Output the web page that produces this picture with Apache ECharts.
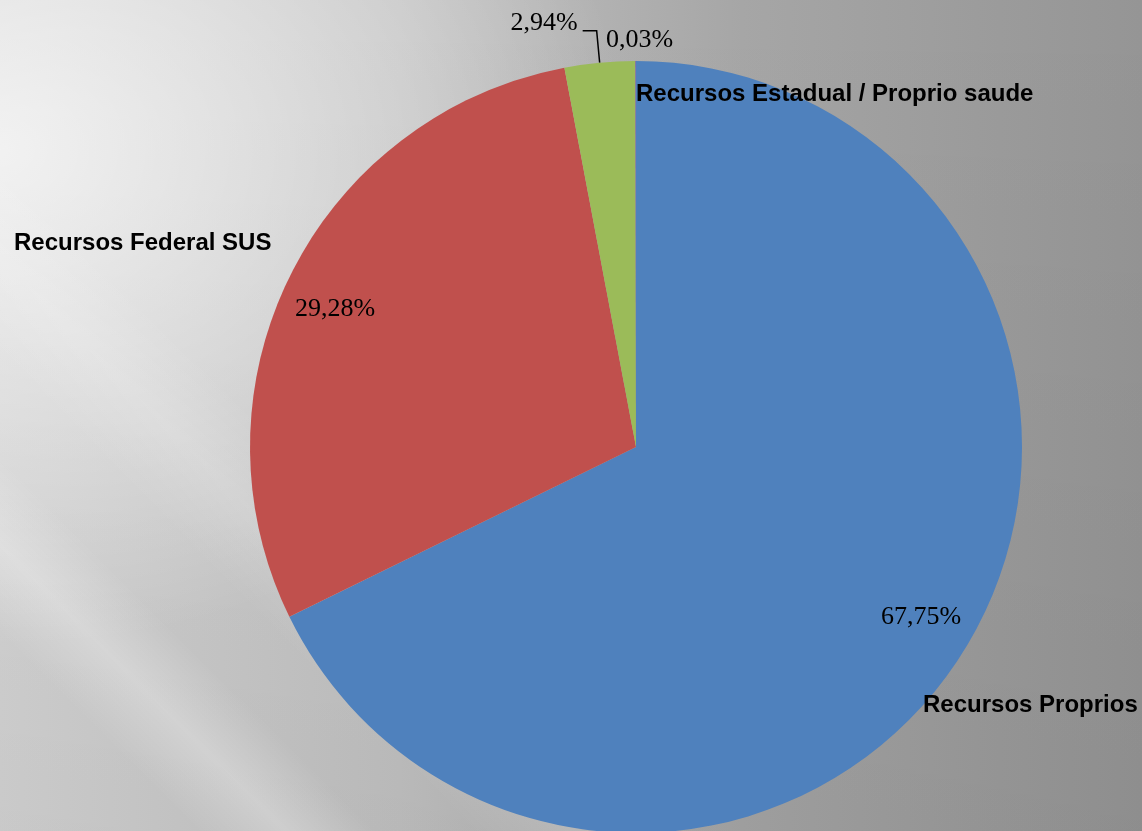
<!DOCTYPE html>
<html>
<head>
<meta charset="utf-8">
<title>Recursos</title>
<script src="https://cdn.jsdelivr.net/npm/echarts@6/dist/echarts.min.js"></script>
<style>
  html, body {
    margin: 0;
    padding: 0;
  }
  body {
    width: 1142px;
    height: 831px;
    overflow: hidden;
    background:
      linear-gradient(45deg, rgba(255,255,255,0) 10%, rgba(255,255,255,0.25) 14.5%, rgba(255,255,255,0) 19%),
      linear-gradient(45deg, rgba(255,255,255,0) 24%, rgba(255,255,255,0.15) 29%, rgba(255,255,255,0) 34%),
      radial-gradient(ellipse 55% 60% at 0% 18%, rgba(255,255,255,0.7), rgba(255,255,255,0) 100%),
      linear-gradient(to bottom, rgba(0,0,0,0) 0%, rgba(0,0,0,0.05) 100%),
      linear-gradient(to right, #d4d4d4 0%, #c2c2c2 35%, #a6a6a6 65%, #959595 100%);
  }
  #main {
    width: 1142px;
    height: 831px;
  }
</style>
</head>
<body>
<div id="main"></div>
<script>
// valores
const categories = ["Recursos Proprios", "Recursos Federal SUS", "", "Recursos Estadual / Proprio saude"];
const shares = [67.75, 29.28, 2.94, 0.03];
const colors = ["#4F81BD", "#C0504D", "#9BBB59", "#8064A2"];

// posicao dos rotulos (x esquerda, y meio)
const pctPos = [[881, 617], [295, 309], null, [606, 40]];
const namePos = [[923, 705], [14, 243], null, [636, 94]];

const chart = echarts.init(document.getElementById("main"));

const fmtPct = (v) => v.toFixed(2).replace(".", ",") + "%";

const pieData = shares.map((v, i) => {
  const item = {
    name: categories[i] || "s" + i,
    value: v,
    itemStyle: { color: colors[i] },
  };
  if (i === 2) {
    // rotulo externo com linha guia
    item.label = { position: "outside" };
    item.labelLine = { show: true };
  }
  return item;
});

const nameData = shares.map((v, i) => ({
  name: categories[i],
  value: v,
  label: { show: !!categories[i] },
}));

chart.setOption({
  backgroundColor: "transparent",
  animation: false,
  series: [
    {
      type: "pie",
      center: [636, 447],
      radius: 386,
      startAngle: 90,
      clockwise: true,
      avoidLabelOverlap: false,
      itemStyle: { borderWidth: 0 },
      label: {
        show: true,
        position: "inside",
        formatter: (p) => fmtPct(p.value),
        fontFamily: "Liberation Serif",
        fontSize: 26,
        color: "#000",
      },
      labelLine: {
        show: false,
        length: 32,
        length2: 14,
        lineStyle: { color: "#000", width: 1.5 },
      },
      labelLayout: (p) => {
        const pos = pctPos[p.dataIndex];
        if (!pos) {
          // sobe o texto, mantem a linha guia
          return { dy: -8, labelLinePoints: p.labelLinePoints };
        }
        return { x: pos[0], y: pos[1], align: "left", verticalAlign: "middle" };
      },
      emphasis: { disabled: true },
      data: pieData,
    },
    {
      type: "pie",
      center: [636, 447],
      radius: 386,
      startAngle: 90,
      silent: true,
      z: 3,
      itemStyle: { color: "rgba(0,0,0,0)" },
      label: {
        show: true,
        position: "inside",
        formatter: "{b}",
        fontFamily: "Liberation Sans",
        fontWeight: "bold",
        fontSize: 24,
        color: "#000",
      },
      labelLine: { show: false },
      labelLayout: (p) => {
        const pos = namePos[p.dataIndex];
        if (!pos) return {};
        return { x: pos[0], y: pos[1], align: "left", verticalAlign: "middle" };
      },
      data: nameData,
    },
  ],
});
</script>
</body>
</html>
